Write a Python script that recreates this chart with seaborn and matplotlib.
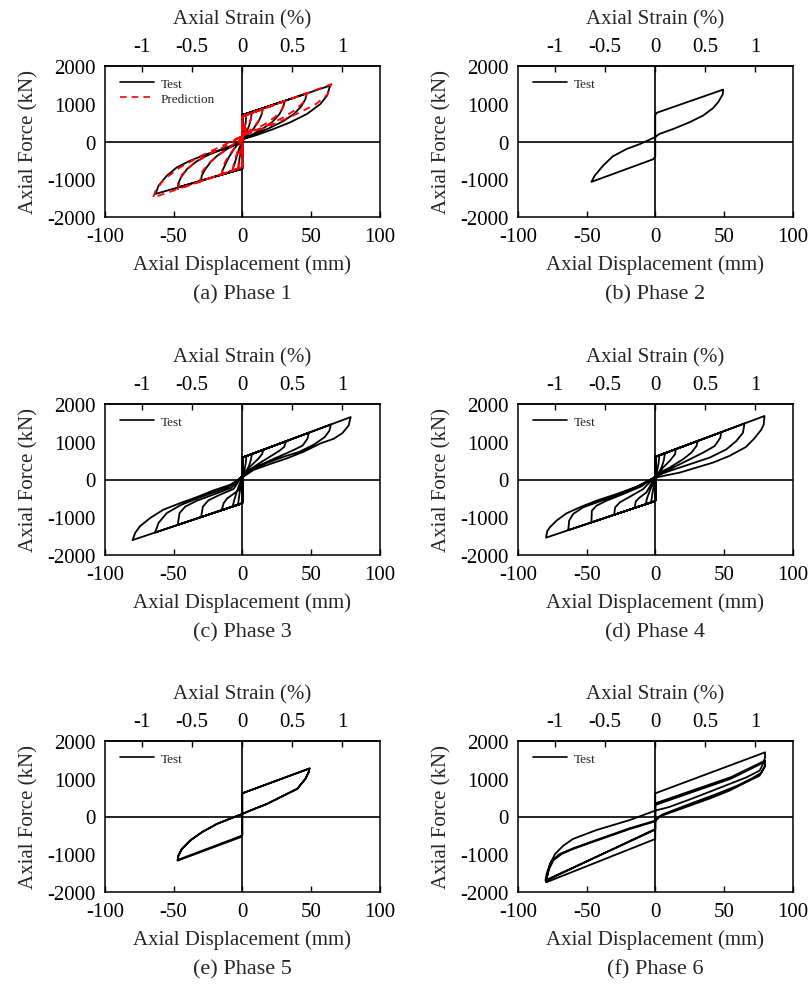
import matplotlib
matplotlib.use("Agg")
import matplotlib.pyplot as plt
import seaborn as sns

# -----------------------
# Data
# axial displacement in mm, axial force in kN
# -----------------------

# (a) Phase 1 - test
a_test_disp = [0,
               0, 3, 2.5, 1.5, 0.5, 0, -0.8, -2, -3, 0,
               0, 7, 6.3, 5, 3, 1, 0, -1.5, -3.5, -5.5, -6.6, -7, 0,
               0, 15, 14.3, 12, 8, 4, 0, -3, -6, -9.5, -12.5, -14.3, -15, 0,
               0, 31, 30, 27, 22, 15, 8, 0, -6, -12, -18, -23, -27, -29.5, -30, 0,
               0, 47, 46, 43, 38, 30, 20, 10, 0, -8, -16, -25, -33, -40, -44.5, -46.5, -47, 0,
               0, 64, 61.8, 57, 47.2, 35, 22.9, 10.7, 1, -1.5, -13.6, -25.8, -38, -47.7, -55, -61, -62.8, -63, 0]
a_test_force = [0,
                700, 737, 500, 250, 80, 30, -150, -450, -752, -720,
                700, 785, 600, 420, 240, 100, 50, -100, -330, -580, -700, -794, -720,
                700, 883, 730, 540, 330, 180, 60, -60, -200, -400, -620, -760, -879, -720,
                700, 1078, 930, 720, 520, 340, 200, 60, -100, -220, -370, -540, -740, -900, -1038, -720,
                700, 1273, 1120, 930, 740, 540, 360, 200, 60, -110, -230, -360, -520, -720, -940, -1100, -1218, -720,
                700, 1481, 1217, 996, 730, 509, 332, 173, 66, -40, -199, -332, -509, -686, -907, -1172, -1350, -1388, -720]

# (a) Phase 1 - prediction
a_pred_disp = [0,
               0, 3, 2.3, 1, 0, -1, -2.3, -3, 0,
               0, 7, 6, 4, 2, 0, -2, -4, -6, -7, 0,
               0, 15, 13.5, 10, 5, 0, -5, -10, -13.5, -15, 0,
               0, 31, 29, 24, 16, 8, 0, -8, -16, -24, -29, -31, 0,
               0, 47, 44.5, 38, 28, 15, 0, -12, -25, -36, -44, -47, 0,
               0, 65, 62, 54, 42, 25, 10, 0, -15, -30, -45, -57, -63, -65, 0]
a_pred_force = [0,
                660, 700, 450, 250, 150, -150, -450, -717, -680,
                660, 752, 560, 380, 250, 150, -100, -330, -560, -767, -680,
                660, 858, 650, 450, 280, 150, -140, -380, -620, -866, -680,
                660, 1069, 850, 650, 450, 300, 150, -130, -330, -560, -790, -1064, -680,
                660, 1280, 1030, 820, 600, 380, 150, -120, -350, -600, -880, -1263, -680,
                660, 1518, 1240, 1000, 770, 490, 280, 150, -120, -380, -680, -1000, -1300, -1486, -680]

# (b) Phase 2
b_disp = [0, 0, 1, 49.5, 49.2, 46, 42, 35, 25, 13, 3, 0, -4, -11, -21, -31, -38, -44, -46.5, -1.5, 0, 0]
b_force = [0, 690, 760, 1375, 1250, 1050, 880, 690, 510, 330, 200, 120, 50, -65, -200, -395, -640, -900, -1070,
           -470, -400, 0]

# (c) Phase 3
c_disp = [0,
          0, 3, 2.5, 1.5, 0.5, 0, -1, -2.2, -3, 0,
          0, 7, 6.3, 5, 3, 1, 0, -2, -4, -5.8, -7, 0,
          0, 15.5, 14.5, 12, 8, 4, 0, -1.5, -6.3, -11, -13.6, -15, 0,
          0, 32, 30.5, 27, 20, 12, 5, 0, -6.3, -16, -24.6, -28.7, -30, 0,
          0, 48.5, 47.5, 44, 38, 30, 20, 10, 0, -8, -21, -33, -41.6, -45.7, -47, 0,
          0, 64.5, 63.5, 60, 52, 42, 30, 18, 8, 0, -10, -20, -30.7, -45, -55, -61, -63.5, 0,
          0, 79, 77.5, 73, 66.6, 57, 44.8, 32.6, 20.4, 8.3, 1, 0, -8.8, -21, -33, -45, -57.4, -67, -74.5, -78,
          -79.3, -80, 0, 0]
c_force = [0,
           580, 621, 420, 230, 80, 30, -150, -420, -667, -630,
           580, 675, 520, 370, 210, 80, 30, -120, -330, -540, -715, -630,
           580, 791, 680, 560, 420, 280, 100, -250, -380, -500, -630, -813, -630,
           580, 1015, 860, 760, 600, 420, 250, 100, -250, -400, -550, -720, -996, -630,
           580, 1240, 1080, 900, 790, 660, 500, 330, 90, -220, -400, -560, -720, -890, -1203, -630,
           580, 1457, 1290, 1120, 920, 740, 600, 440, 290, 80, -200, -330, -470, -680, -890, -1149, -1405, -630,
           580, 1654, 1430, 1230, 1079, 956, 737, 561, 412, 254, 79, 50, -140, -289, -465, -623, -798, -1018, -1237,
           -1412, -1544, -1606, -630, 0]

# (d) Phase 4
d_disp = [0,
          0, 3, 2.5, 1.5, 0.5, 0, -1, -2.2, -3, 0,
          0, 7, 6.3, 5, 3, 1, 0, -2, -4, -6, -7, 0,
          0, 15, 14.4, 10.5, 5.7, 2, 0, -3, -6.4, -11.3, -14.2, -15, 0,
          0, 31, 30, 26.3, 20.2, 10.5, 3.3, 0, -8.8, -18.5, -25.8, -29.2, -30, 0,
          0, 48, 47.4, 43.3, 34.8, 22.7, 10.5, 0, -10, -23.4, -35.5, -42.8, -46.2, -46.5, 0,
          0, 65, 63.9, 59, 51.8, 39.6, 25, 10.5, 0.8, 0, -12, -25.8, -40.4, -52.5, -59.8, -62.7, -63.4, 0,
          0, 79.6, 79, 77.2, 72, 66, 54, 42, 30, 18, 6, 0, -13.7, -28.2, -42.8, -55, -64.6, -71.9, -76.7, -78.7,
          -79.6, 0, 0]
d_force = [0,
           600, 641, 450, 250, 90, 40, -150, -400, -607, -570,
           600, 695, 520, 360, 200, 80, 40, -120, -300, -500, -655, -570,
           600, 804, 667, 491, 316, 150, 60, -120, -342, -474, -579, -753, -570,
           600, 1022, 886, 710, 535, 316, 184, 80, -254, -456, -605, -737, -936, -570,
           600, 1253, 1105, 886, 710, 491, 272, 80, -180, -386, -561, -693, -825, -1137, -570,
           600, 1484, 1237, 1018, 798, 579, 403, 228, 96, 70, -170, -386, -579, -737, -912, -1088, -1343, -570,
           600, 1683, 1450, 1316, 1080, 860, 623, 447, 316, 184, 96, 50, -193, -386, -561, -737, -895, -1088, -1263,
           -1368, -1541, -570, 0]

# (e) Phase 5
e_disp = [0,
          0, 49.1, 48.4, 46, 40, 30.2, 18, 5.8, 0, -6.3, -18.5, -29.4, -38, -44, -46.5, -47.2, -1.5, 0,
          0, 49, 48.2, 45.8, 40, 30, 18, 5.8, 0, -6.3, -18.5, -29.4, -38, -44, -46.5, -47, -1.5, 0, 0]
e_force = [0,
           614, 1276, 1170, 993, 728, 552, 331, 155, 66, -22, -199, -419, -640, -861, -1038, -1170, -552, -508,
           614, 1270, 1160, 990, 735, 555, 335, 160, 70, -20, -195, -415, -635, -855, -1030, -1150, -525, -490, 0]

# (f) Phase 6
f_disp = [0,
          0, 80, 80, 78, 76, 66, 54, 40, 25, 10, 0, -18.5, -42.8, -60, -67, -73, -76.7, -78.7, -79.5, 0,
          0, 55, 80, 80, 78, 76, 66, 54, 40, 20, 3, 0, -18.5, -42.8, -60, -68, -74, -77.5, -79.5, 0,
          0, 55, 80, 80, 77, 70, 60, 45, 25, 5, 0, -18.5, -42.8, -60, -70, -76, -79, -80, 0, 0]
f_force = [0,
           614, 1700, 1560, 1350, 1214, 1030, 860, 660, 450, 250, 155, -93, -358, -596, -773, -993, -1258, -1567,
           -1744, -596,
           349, 1040, 1480, 1350, 1200, 1081, 904, 684, 480, 220, 0, -128, -331, -640, -861, -990, -1150, -1400,
           -1700, -331,
           305, 1000, 1450, 1330, 1150, 1000, 820, 600, 330, 50, -110, -310, -620, -845, -1000, -1200, -1500, -1690,
           -350, 0]

captions = ["(a) Phase 1", "(b) Phase 2", "(c) Phase 3", "(d) Phase 4", "(e) Phase 5", "(f) Phase 6"]
disp_ticks = [-100, -50, 0, 50, 100]
force_ticks = [-2000, -1000, 0, 1000, 2000]
strain_ticks = [-1, -0.5, 0, 0.5, 1]
strain_labels = ["-1", "-0.5", "0", "0.5", "1"]
GAUGE_MM = 73.0  # displacement (mm) that corresponds to 1 % strain

# -----------------------
# Style
# -----------------------
sns.set_theme(style="ticks")
plt.rcParams["font.family"] = ["Liberation Serif", "DejaVu Serif"]
plt.rcParams["font.size"] = 15
plt.rcParams["axes.unicode_minus"] = False
plt.rcParams["axes.linewidth"] = 1.1
plt.rcParams["axes.edgecolor"] = "black"

FS = 15
W, H = 811, 995
fig = plt.figure(figsize=(W / 100, H / 100), dpi=100)


def draw_panel(left, top, caption, series):
    w, h = 274.5, 151
    ax = fig.add_axes([left / W, 1 - (top + h) / H, w / W, h / H])
    ax.axhline(0, color="black", lw=1.2, zorder=1)
    ax.axvline(0, color="black", lw=1.2, zorder=1)
    for disp, force, label, color, ls in series:
        sns.lineplot(x=disp, y=force, sort=False, estimator=None, ax=ax, color=color,
                     linestyle=ls, lw=1.3, label=label, zorder=3)
    ax.set_xlim(-100, 100)
    ax.set_ylim(-2000, 2000)
    ax.set_xticks(disp_ticks)
    ax.set_yticks(force_ticks)
    ax.tick_params(axis="x", direction="in", length=4, width=1, pad=7, labelsize=FS, colors="black")
    ax.tick_params(axis="y", length=0, pad=7, labelsize=FS, colors="black")
    ax.set_xlabel("Axial Displacement (mm)", labelpad=6.5, fontsize=FS)
    ax.set_ylabel("Axial Force (kN)", labelpad=6, fontsize=FS)
    for sp in ax.spines.values():
        sp.set_visible(True)
        sp.set_color("black")

    sec = ax.secondary_xaxis("top", functions=(lambda d: d / GAUGE_MM, lambda s: s * GAUGE_MM))
    sec.set_xticks(strain_ticks)
    sec.set_xticklabels(strain_labels)
    sec.tick_params(direction="in", length=4, width=1, pad=7, labelsize=FS, colors="black")
    sec.set_xlabel("Axial Strain (%)", labelpad=10, fontsize=FS)

    leg = ax.legend(loc="upper left", bbox_to_anchor=(0.055, 0.925), frameon=False, fontsize=9.5,
                    handlelength=2.6, handletextpad=0.5, labelspacing=0.25, borderpad=0, borderaxespad=0)
    for line in leg.get_lines():
        line.set_linewidth(1.2)

    fig.text((left + w / 2) / W, 1 - (top + h + 77) / H, caption, ha="center", va="center", fontsize=16)
    return ax


lefts = [105, 518]
tops = [67, 405, 742]

draw_panel(lefts[0], tops[0], captions[0],
           [(a_test_disp, a_test_force, "Test", "black", "-"),
            (a_pred_disp, a_pred_force, "Prediction", "red", (0, (4, 3)))])
draw_panel(lefts[1], tops[0], captions[1], [(b_disp, b_force, "Test", "black", "-")])
draw_panel(lefts[0], tops[1], captions[2], [(c_disp, c_force, "Test", "black", "-")])
draw_panel(lefts[1], tops[1], captions[3], [(d_disp, d_force, "Test", "black", "-")])
draw_panel(lefts[0], tops[2], captions[4], [(e_disp, e_force, "Test", "black", "-")])
draw_panel(lefts[1], tops[2], captions[5], [(f_disp, f_force, "Test", "black", "-")])

fig.savefig("out.png", dpi=100, facecolor="white")
